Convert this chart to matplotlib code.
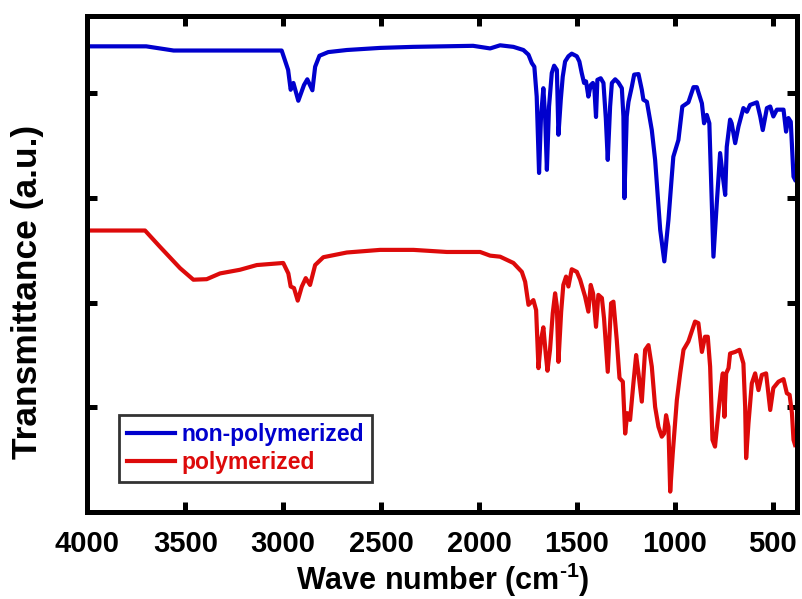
import matplotlib
matplotlib.use("Agg")
import matplotlib.pyplot as plt

plt.rcParams["font.family"] = ["Liberation Sans", "DejaVu Sans"]
plt.rcParams["font.weight"] = "bold"
plt.rcParams["mathtext.fontset"] = "custom"
plt.rcParams["mathtext.rm"] = "Liberation Sans:bold"
plt.rcParams["mathtext.default"] = "regular"

# FTIR spectrum of the monomer (non-polymerized), offset upward
wn_mono = [4000, 3700, 3560, 3272, 3008, 2975, 2962, 2948, 2923, 2894, 2877, 2851,
           2837, 2815, 2770, 2675, 2505, 2337, 2030, 1943, 1892, 1824, 1773, 1747,
           1730, 1717, 1705, 1693, 1683, 1671, 1662, 1653, 1642, 1628, 1616, 1602,
           1594, 1582, 1572, 1560, 1543, 1526, 1500, 1487, 1475, 1463, 1453, 1441,
           1429, 1418, 1410, 1402, 1395, 1378, 1364, 1352, 1342, 1330, 1321, 1304,
           1288, 1270, 1262, 1257, 1245, 1236, 1219, 1207, 1185, 1168, 1160, 1142,
           1117, 1100, 1074, 1053, 1032, 1015, 1007, 981, 961, 930, 904, 887, 861,
           850, 836, 823, 802, 785, 768, 754, 742, 734, 717, 709, 691, 674, 649,
           631, 615, 580, 563, 550, 529, 512, 496, 478, 444, 431, 419, 407, 393, 385]
t_mono = [89.0, 89.0, 88.2, 88.2, 88.2, 84.5, 80.7, 82.0, 78.6, 81.6, 82.7, 80.6,
          85.1, 87.2, 87.9, 88.3, 88.7, 88.9, 89.1, 88.6, 89.2, 88.9, 88.3, 87.4,
          85.8, 85.1, 79.4, 64.8, 75.6, 81.0, 75.6, 65.4, 77.5, 83.9, 85.3, 84.5,
          72.1, 78.8, 83.2, 86.1, 87.1, 87.6, 87.1, 86.1, 83.9, 82.0, 82.3, 79.4,
          81.6, 82.0, 80.7, 75.5, 82.6, 82.9, 82.0, 75.3, 67.3, 77.5, 82.0, 82.7,
          82.1, 81.0, 75.6, 60.0, 75.6, 78.4, 81.3, 83.6, 83.7, 80.7, 78.8, 78.4,
          73.0, 67.3, 53.9, 47.9, 55.8, 64.1, 67.9, 71.1, 77.5, 78.3, 81.2, 81.2, 78.1,
          74.3, 75.9, 74.3, 48.8, 59.0, 68.6, 64.1, 60.6, 69.8, 75.0, 74.3, 70.5, 73.7, 77.2,
          76.5, 77.8, 78.3, 75.6, 73.0, 77.2, 77.5, 75.6, 76.9, 76.9, 72.7, 75.3, 74.6, 64.1, 63.5]

# FTIR spectrum after polymerization
wn_poly = [4000, 3706, 3630, 3527, 3459, 3391, 3323, 3221, 3135, 3000, 2974, 2962,
           2945, 2926, 2905, 2885, 2863, 2837, 2795, 2675, 2505, 2335, 2164, 1994,
           1943, 1892, 1824, 1781, 1764, 1747, 1722, 1708, 1696, 1683, 1671, 1659,
           1650, 1637, 1623, 1611, 1602, 1594, 1580, 1569, 1555, 1543, 1526, 1500,
           1483, 1458, 1441, 1429, 1417, 1402, 1390, 1372, 1361, 1342, 1325, 1313,
           1296, 1282, 1265, 1253, 1242, 1228, 1211, 1197, 1185, 1168, 1151, 1134,
           1117, 1100, 1083, 1066, 1054, 1044, 1032, 1023, 1010, 989, 972, 955, 930,
           896, 879, 861, 845, 831, 819, 807, 794, 777, 763, 754, 746, 737, 725, 717,
           691, 669, 649, 640, 635, 623, 606, 589, 572, 555, 533, 512, 496, 470, 444,
           427, 413, 401, 393, 385]
t_poly = [53.8, 53.8, 50.7, 46.6, 44.4, 44.5, 45.6, 46.3, 47.2, 47.6, 45.6, 43.1,
          42.8, 40.4, 43.1, 44.7, 43.4, 47.2, 48.7, 49.6, 50.1, 50.1, 49.7, 49.7,
          49.0, 48.8, 47.6, 45.9, 44.0, 39.6, 40.5, 38.6, 27.5, 32.9, 35.3, 30.3,
          27.0, 31.0, 38.0, 41.8, 39.3, 28.7, 38.3, 43.4, 45.0, 43.1, 46.4, 45.9,
          44.4, 41.2, 38.3, 43.4, 41.8, 35.4, 41.5, 40.9, 37.0, 26.8, 39.9, 40.2,
          32.9, 25.6, 24.9, 15.0, 18.9, 17.6, 24.6, 30.0, 26.5, 21.1, 31.0, 31.9,
          27.8, 20.1, 16.3, 14.4, 15.0, 18.5, 16.3, 3.9, 11.2, 21.4, 26.5, 31.0, 32.6,
          36.4, 36.1, 30.6, 33.5, 33.5, 27.8, 13.8, 12.5, 18.9, 24.0, 26.5, 18.2, 26.5, 27.5, 30.3,
          30.6, 31.0, 28.4, 20.1, 10.3, 17.0, 24.6, 26.5, 23.3, 26.2, 26.5, 19.5, 23.7, 24.9, 25.4,
          22.7, 22.4, 18.9, 13.8, 12.8]

x_ticks = [4000, 3500, 3000, 2500, 2000, 1500, 1000, 500]
y_ticks = [20, 40, 60, 80]

fig = plt.figure(figsize=(8.02, 5.99), dpi=100)
ax = fig.add_axes([0.1091, 0.1452, 0.8847, 0.8281])

ax.plot(wn_mono, t_mono, color="#0000cd", lw=3.0, label="non-polymerized")
ax.plot(wn_poly, t_poly, color="#dd0a0a", lw=3.0, label="polymerized")

ax.set_xlim(4000, 375)
ax.set_ylim(0, 94.8)
ax.set_xticks(x_ticks)
ax.set_yticks(y_ticks)
ax.set_yticklabels([])

for side in ax.spines.values():
    side.set_linewidth(3.6)

ax.tick_params(axis="both", which="major", direction="in", length=7.5, width=3.6,
               top=True, right=True, labelsize=21, pad=13)
for lbl in ax.get_xticklabels():
    lbl.set_fontweight("bold")

ax.set_xlabel(r"Wave number (cm$^{\text{-}1}$)", fontsize=22, fontweight="bold")
ax.xaxis.set_label_coords(0.5, -0.098)
ax.set_ylabel("Transmittance (a.u.)", fontsize=25.5, fontweight="bold")
ax.yaxis.set_label_coords(-0.062, 0.444)

leg = ax.legend(loc="lower left", bbox_to_anchor=(0.0448, 0.0605), borderaxespad=0,
                fancybox=False, frameon=True, edgecolor="black",
                prop={"size": 16.5, "weight": "bold"},
                handlelength=2.1, handletextpad=0.25, borderpad=0.35,
                labelspacing=0.2)
leg.get_frame().set_linewidth(2.0)
for txt, line in zip(leg.get_texts(), leg.get_lines()):
    txt.set_color(line.get_color())

fig.savefig("out.png", dpi=100)
